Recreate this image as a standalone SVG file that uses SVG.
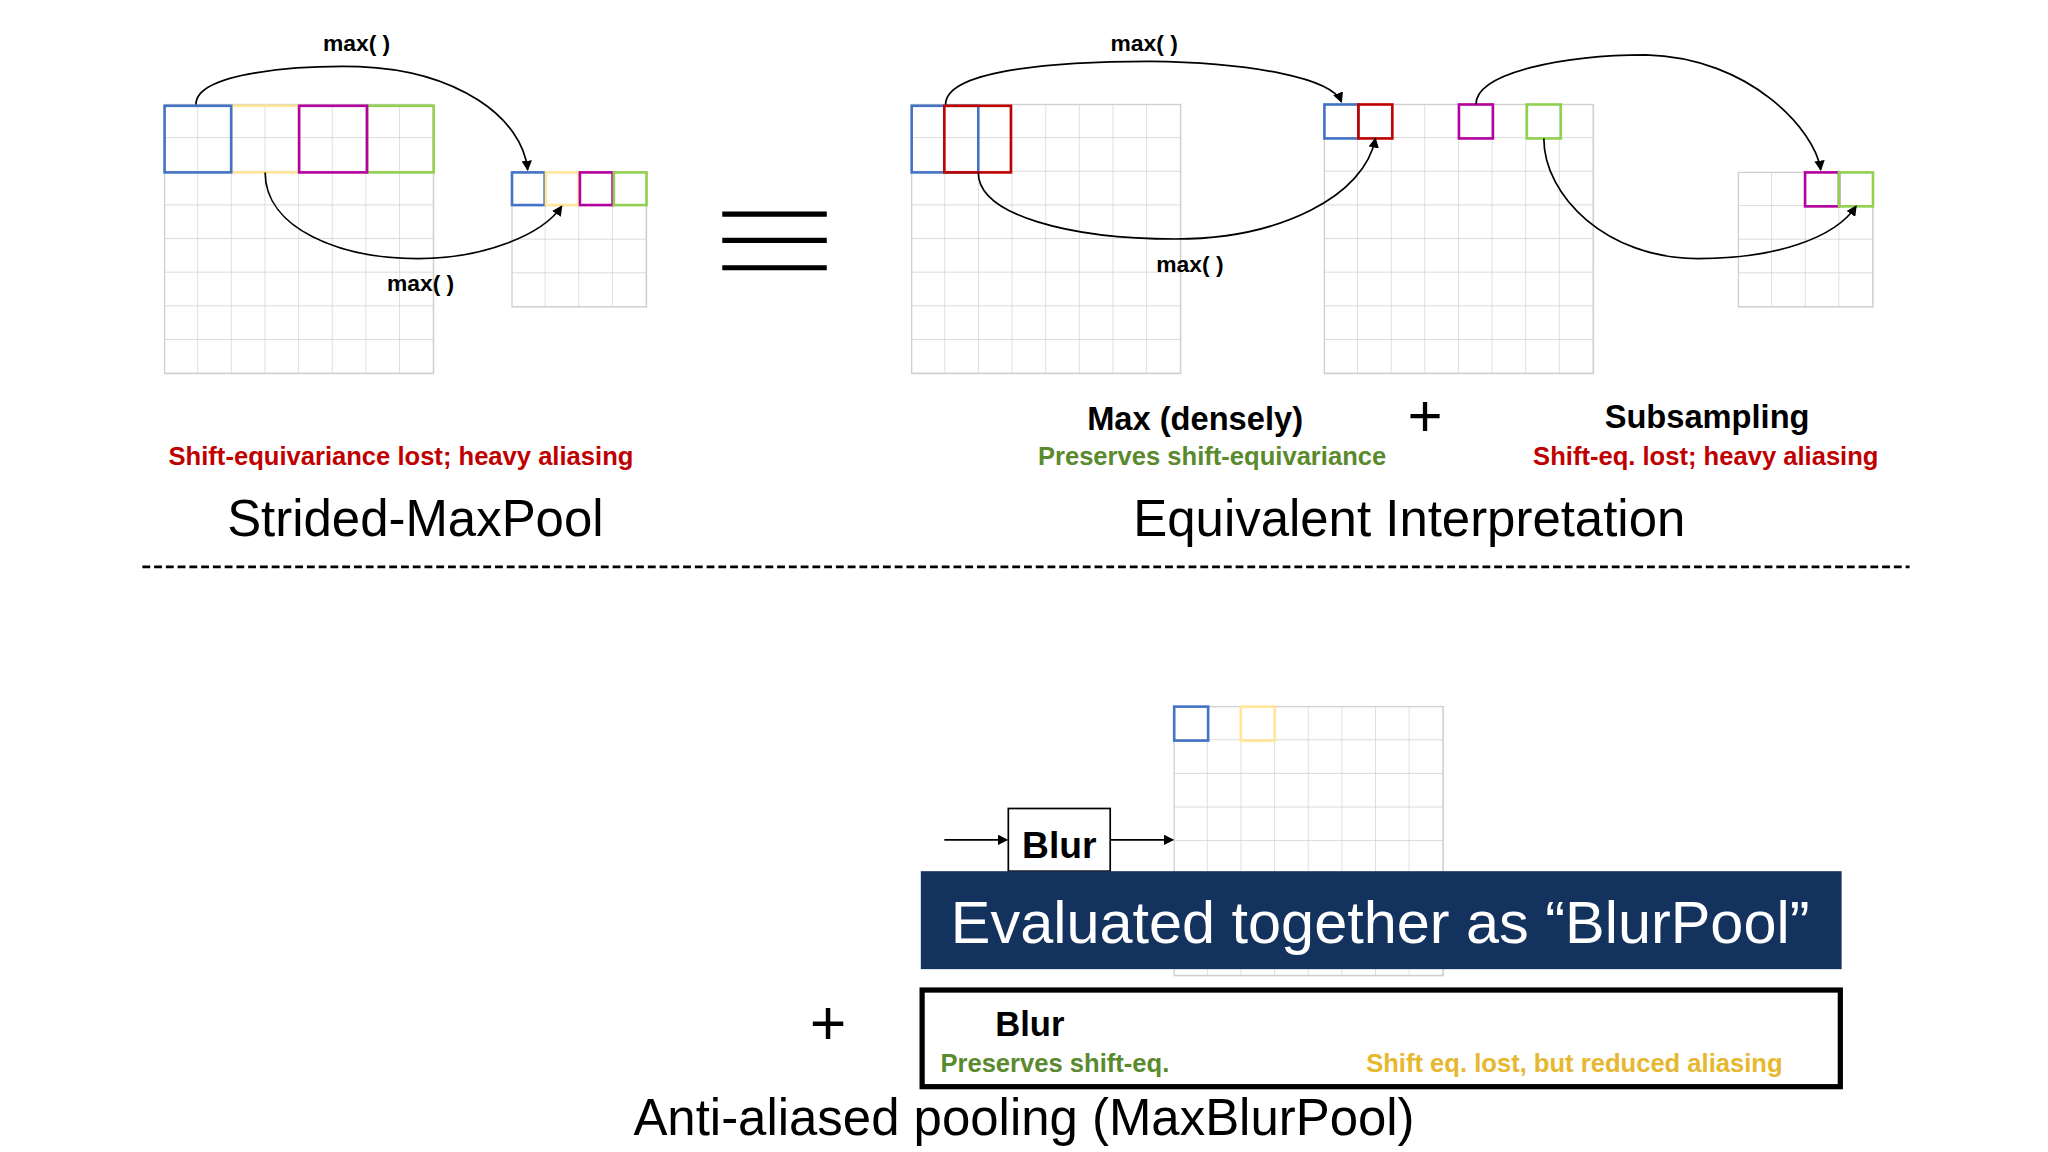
<svg xmlns="http://www.w3.org/2000/svg" width="2048" height="1152" viewBox="0 0 2048 1152">
<defs>
<pattern id="cell" width="25.75" height="25.75" patternUnits="userSpaceOnUse"><path d="M25.75 0V25.75H0" fill="none" stroke="#cfcfcf" stroke-width="1"/></pattern>
<marker id="ah" markerWidth="8" markerHeight="8" refX="7" refY="4" orient="auto" markerUnits="userSpaceOnUse"><path d="M0,0 L8,4 L0,8 Z" fill="#000"/></marker>
<style>
.g{fill:url(#cell);stroke:#cfcfcf;stroke-width:1}
.c{fill:none;stroke-width:2}
.b{stroke:#4472c4}.y{stroke:#ffe699}.m{stroke:#b4009e}.gr{stroke:#92d050}.r{stroke:#c00000}
.cv{fill:none;stroke:#000;stroke-width:1.3;marker-end:url(#ah)}
text{font-family:"Liberation Sans",Arial,sans-serif}
.lb{font-size:17.5px;font-weight:bold;text-anchor:middle}
.h{font-size:25px;font-weight:bold;text-anchor:middle}
.s{font-size:19.6px;font-weight:bold;text-anchor:middle}
.t{font-size:39px;text-anchor:middle}
</style>
</defs>
<rect width="2048" height="1152" fill="#fff"/>
<g transform="scale(1.30612)">
<g id="grids">
<g transform="translate(126,80)"><rect class="g" width="206" height="206"/></g>
<g transform="translate(392,132)"><rect class="g" width="103" height="103"/></g>
<g transform="translate(698,80)"><rect class="g" width="206" height="206"/></g>
<g transform="translate(1014,80)"><rect class="g" width="206" height="206"/></g>
<g transform="translate(1331,132)"><rect class="g" width="103" height="103"/></g>
<g transform="translate(899,541)"><rect class="g" width="206" height="206"/></g>
</g>
<g id="highlights">
<rect class="c y" x="177" y="81" width="52" height="51"/>
<rect class="c gr" x="281" y="81" width="51" height="51"/>
<rect class="c m" x="229" y="81" width="52" height="51"/>
<rect class="c b" x="126" y="81" width="51" height="51"/>
<rect class="c b" x="392" y="132" width="25" height="25"/>
<rect class="c y" x="418" y="132" width="25" height="25"/>
<rect class="c m" x="444" y="132" width="25" height="25"/>
<rect class="c gr" x="470" y="132" width="25" height="25"/>
<rect class="c b" x="698" y="81" width="51" height="51"/>
<rect class="c r" x="723" y="81" width="51" height="51"/>
<rect class="c b" x="1014" y="80" width="26" height="26"/>
<rect class="c r" x="1040" y="80" width="26" height="26"/>
<rect class="c m" x="1117" y="80" width="26" height="26"/>
<rect class="c gr" x="1169" y="80" width="26" height="26"/>
<rect class="c m" x="1382" y="132" width="26" height="26"/>
<rect class="c gr" x="1408" y="132" width="26" height="26"/>
<rect class="c b" x="899" y="541" width="26" height="26"/>
<rect class="c y" x="950" y="541" width="26" height="26"/>
</g>
<g id="connectors">
<path class="cv" d="M150,80 C150,55 230,50 275,51 C350,54 400,90 404,130"/>
<path class="cv" d="M203,132 C203,175 260,198 320,198 C370,198 415,180 430,158"/>
<path class="cv" d="M724,80 C724,55 800,47 880,47 C960,48 1020,60 1027,78"/>
<path class="cv" d="M749,132 C749,165 820,183 900,183 C980,183 1045,150 1053,106"/>
<path class="cv" d="M1130,80 C1130,55 1200,42 1260,42 C1340,44 1390,100 1394,130"/>
<path class="cv" d="M1182,106 C1182,150 1230,198 1300,198 C1360,198 1405,182 1421,158"/>
<path class="cv" d="M723,643 H771"/>
<path class="cv" d="M850,643 H898"/>
</g>
<g id="labels">
<text class="lb" x="273" y="39">max( )</text>
<text class="lb" x="322" y="223">max( )</text>
<text class="lb" x="876" y="39">max( )</text>
<text class="lb" x="911" y="208">max( )</text>
</g>
<g id="equals" stroke="#000" stroke-width="4"><path d="M553,164H633M553,184H633M553,205H633"/></g>
<g id="captions">
<text class="h" x="915" y="329">Max (densely)</text>
<text x="1091" y="334" font-size="46" text-anchor="middle">+</text>
<text class="h" x="1307" y="328">Subsampling</text>
<text class="s" x="928" y="356" fill="#5a8a2e">Preserves shift-equivariance</text>
<text class="s" x="1306" y="356" fill="#c00000">Shift-eq. lost; heavy aliasing</text>
<text class="s" x="307" y="356" fill="#c00000">Shift-equivariance lost; heavy aliasing</text>
<text class="t" x="318" y="410">Strided-MaxPool</text>
<text class="t" x="1079" y="410">Equivalent Interpretation</text>
</g>
<line x1="109" y1="434" x2="1462" y2="434" stroke="#000" stroke-width="2" stroke-dasharray="6,3"/>
<g id="blur1"><rect x="772" y="619" width="78" height="48" fill="#fff" stroke="#000" stroke-width="1.3"/><text x="811" y="657" font-size="28.5" font-weight="bold" text-anchor="middle">Blur</text></g>
<g id="banner"><rect x="705" y="667" width="705" height="75" fill="#14325e"/><text x="728" y="722" font-size="45.5" fill="#fff">Evaluated together as “BlurPool”</text></g>
<g id="blur2"><rect x="706" y="758" width="703" height="74" fill="#fff" stroke="#000" stroke-width="4"/>
<text x="762" y="793" font-size="26.5" font-weight="bold">Blur</text>
<text x="720" y="821" font-size="19.6" font-weight="bold" fill="#5a8a2e">Preserves shift-eq.</text>
<text x="1046" y="821" font-size="19.6" font-weight="bold" fill="#e6b830">Shift eq. lost, but reduced aliasing</text></g>
<text x="634" y="800" font-size="48" text-anchor="middle">+</text>
<text class="t" x="784" y="869">Anti-aliased pooling (MaxBlurPool)</text>
</g>
</svg>
